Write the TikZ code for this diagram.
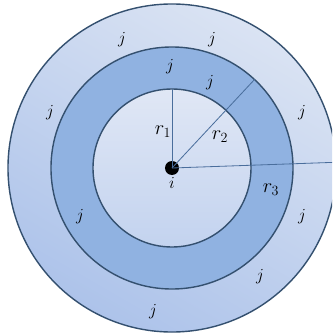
\documentclass[tikz,border=0pt]{standalone}
\usetikzlibrary{positioning}
\definecolor{ringline}{HTML}{34506F}
\definecolor{radline}{HTML}{4A6E9C}
\definecolor{outerlight}{HTML}{DAE3F3}
\definecolor{outerdark}{HTML}{ADC3EA}
\definecolor{middlefill}{HTML}{90B2E1}
\definecolor{innerlight}{HTML}{E0E7F5}
\definecolor{innerdark}{HTML}{C3D3EF}
\begin{document}
\begin{tikzpicture}[
  x=0.03cm, y=0.03cm,
  every node/.style={font=\Large},
  ring/.style={circle, draw=ringline, line width=1.2pt, inner sep=0pt, outer sep=0pt},
  radius/.style={draw=radline, line width=0.7pt},
  lab/.style={inner sep=0pt},
  rlab/.style={inner sep=0pt, font=\LARGE}
]
\useasboundingbox (-172,-166) rectangle (160,168);
\clip (-172,-166) rectangle (160,168);

% Rings, outside in
\node[ring, minimum size=9.84cm, top color=outerlight, bottom color=outerdark,
  shading angle=-30] (outer) at (0,0) {};
\node[ring, minimum size=7.26cm, fill=middlefill] (middle) at (0,0) {};
\node[ring, minimum size=4.74cm, top color=innerlight, bottom color=innerdark] (inner) at (0,0) {};

% Centre point i
\node[circle, fill=black, inner sep=0pt, minimum size=0.42cm] (ctr) at (0,0) {};
\node[lab, below=0.05cm of ctr] (ilab) {$i$};

% Radii
\draw[radius] (ctr.center) -- (inner.90);
\draw[radius] (ctr.center) -- (middle.47);
\draw[radius] (ctr.center) -- (outer.2);
\node[rlab] (r1) at (-9,36) {$r_1$};
\node[rlab] (r2) at (48,31) {$r_2$};
\node[rlab] (r3) at (99,-22) {$r_3$};

% Neighbours j
\node[lab] (j1) at (-50,128) {$j$};
\node[lab] (j2) at (40,128) {$j$};
\node[lab] (j3) at (-2,101) {$j$};
\node[lab] (j4) at (38,85) {$j$};
\node[lab] (j5) at (-122,55) {$j$};
\node[lab] (j6) at (130,55) {$j$};
\node[lab] (j7) at (-92,-49) {$j$};
\node[lab] (j8) at (130,-49) {$j$};
\node[lab] (j9) at (88,-109) {$j$};
\node[lab] (j10) at (-19,-144) {$j$};
\end{tikzpicture}
\end{document}
